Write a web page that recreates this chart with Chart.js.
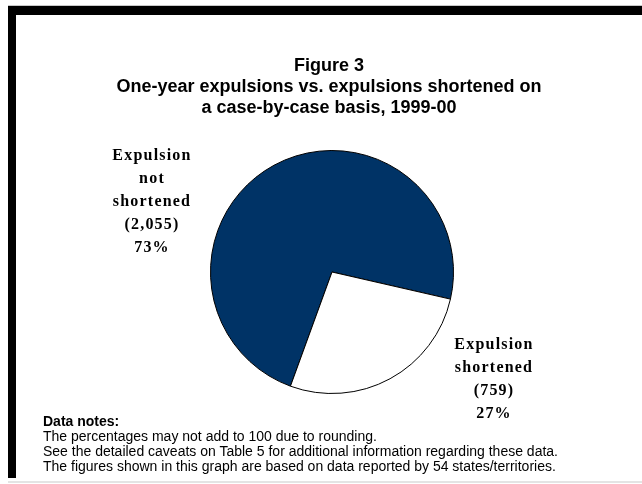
<!DOCTYPE html>
<html>
<head>
<meta charset="utf-8">
<script src="https://cdn.jsdelivr.net/npm/chart.js@4.4.1/dist/chart.umd.min.js"></script>
<style>
  html, body { margin: 0; padding: 0; background: #fff; }
  #page { position: relative; width: 642px; height: 484px; overflow: hidden; background: #fff; }
  #frame { position: absolute; left: 8px; top: 6px; right: 0; top: 6px; height: 463px;
           border-top: 9px solid #000; border-left: 8px solid #000; }
  #topline { position: absolute; left: 8px; right: 0; top: 5px; height: 1px; background: #c8c8c8; }
  #bottomline { position: absolute; left: 8px; right: 0; top: 481px; height: 2px; background: #e4e4e4; }
  #title { position: absolute; left: 16px; right: 0; top: 55px; text-align: center;
           font: bold 18px "Liberation Sans", Arial, sans-serif; line-height: 21px; color: #000; }
  #notes { position: absolute; left: 43px; top: 414px; white-space: nowrap;
           font: 14px "Liberation Sans", Arial, sans-serif; line-height: 15px; color: #000; }
  #notes b { font-weight: bold; }
  canvas { position: absolute; left: 0; top: 0; }
</style>
</head>
<body>
<div id="page">
  <div id="topline"></div>
  <div id="frame"></div>
  <div id="bottomline"></div>
  <canvas id="pieChart" width="642" height="484"></canvas>
  <div id="title">Figure 3<br>One-year expulsions vs. expulsions shortened on<br>a case-by-case basis, 1999-00</div>
  <div id="notes"><b>Data notes:</b><br>The percentages may not add to 100 due to rounding.<br>See the detailed caveats on Table 5 for additional information regarding these data.<br>The figures shown in this graph are based on data reported by 54 states/territories.</div>
</div>

<script>
// chart data
const categories = ['Expulsion not shortened', 'Expulsion shortened'];
const counts = [2055, 759];
const labelLines = [
    ['Expulsion', 'not', 'shortened', '(2,055)', '73%'],
    ['Expulsion', 'shortened', '(759)', '27%']
];
const sliceColors = ['#003366', '#ffffff'];

// draws the multi-line labels next to each slice
const sliceLabels = {
    id: 'sliceLabels',
    afterDraw(chart, args, opts) {
        const ctx = chart.ctx;
        const arc = chart.getDatasetMeta(0).data[0];
        const cx = arc.x, cy = arc.y;
        ctx.save();
        ctx.font = 'bold 16px "Liberation Serif", "Times New Roman", serif';
        ctx.letterSpacing = '1.2px';
        ctx.fillStyle = '#000';
        ctx.textAlign = 'center';
        ctx.textBaseline = 'middle';
        opts.lines.forEach(function(lines, i) {
            const off = opts.offsets[i];
            lines.forEach(function(txt, j) {
                ctx.fillText(txt, cx + off[0], cy + off[1] + j * opts.lineHeight);
            });
        });
        ctx.restore();
    }
};

const ctx = document.getElementById('pieChart').getContext('2d');
new Chart(ctx, {
    type: 'pie',
    data: {
        labels: categories,
        datasets: [{
            data: counts,
            backgroundColor: sliceColors,
            borderColor: '#000000',
            borderWidth: 1,
            hoverOffset: 0
        }]
    },
    options: {
        responsive: false,
        animation: false,
        rotation: 200,
        layout: {
            padding: { left: 210, right: 188, top: 150, bottom: 90 }
        },
        plugins: {
            legend: { display: false },
            tooltip: { enabled: false },
            sliceLabels: {
                lines: labelLines,
                offsets: [[-180, -116], [162, 73]],
                lineHeight: 23
            }
        }
    },
    plugins: [sliceLabels]
});
</script>
</body>
</html>
